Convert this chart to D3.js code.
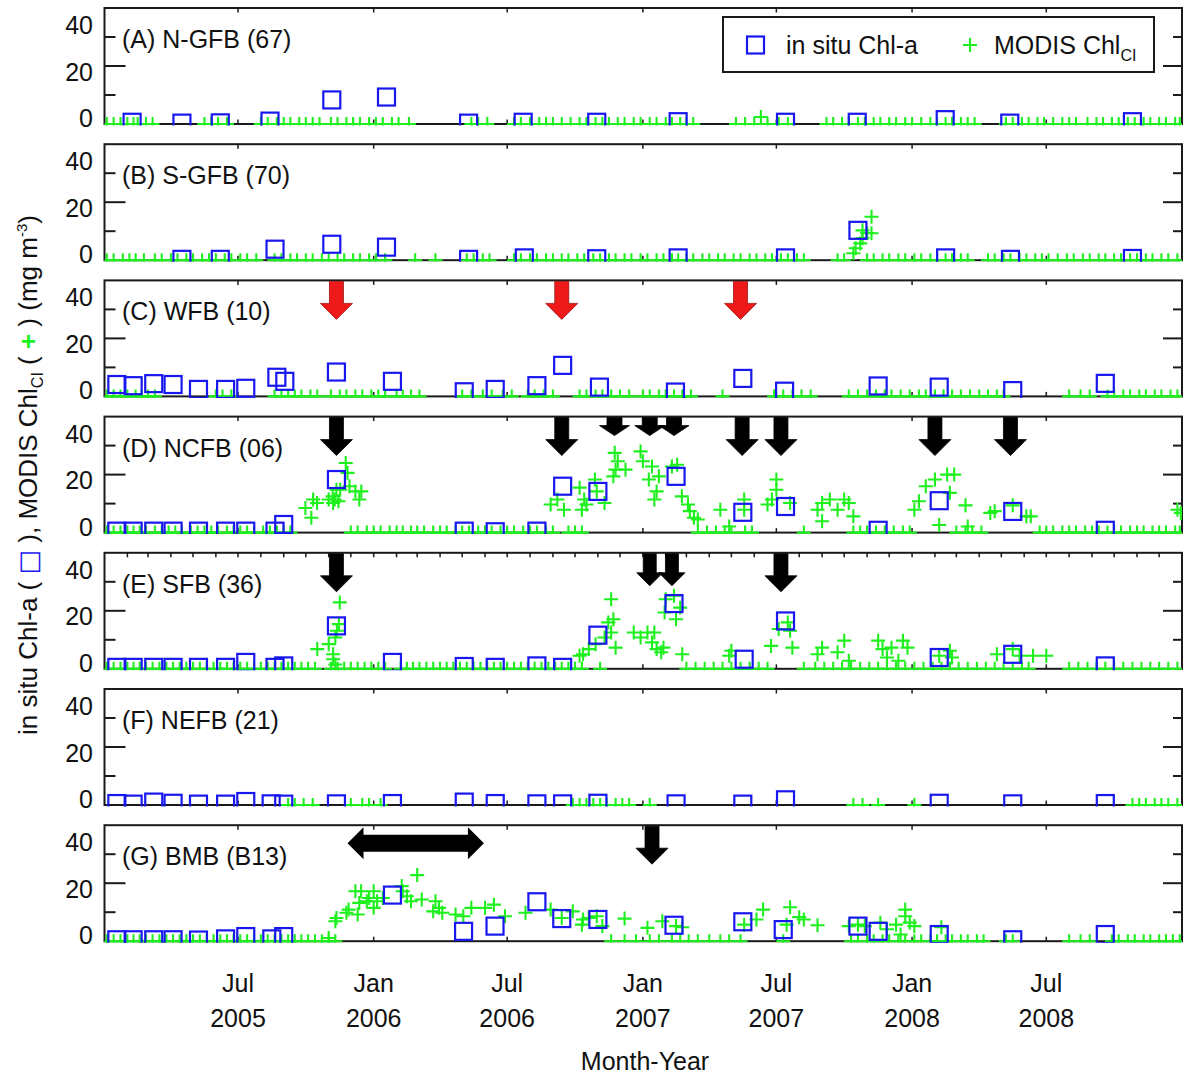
<!DOCTYPE html>
<html>
<head>
<meta charset="utf-8">
<script src="https://cdn.jsdelivr.net/npm/d3@7"></script>
<style>
  body { margin: 0; background: #fff; }
  text { font-family: "Liberation Sans", Arial, Helvetica, sans-serif; fill: #111; }
</style>
</head>
<body>
<div id="chart"></div>
<script>
// all times are in months since Jan 2005
const panelLabels = ["(A) N-GFB (67)", "(B) S-GFB (70)", "(C) WFB (10)", "(D) NCFB (06)",
                     "(E) SFB (36)", "(F) NEFB (21)", "(G) BMB (B13)"];

const yTicks = [0, 20, 40];
const xTicks = [6, 12, 18, 24, 30, 36, 42];

// in situ Chl-a  [month, mg m-3]
const insituA = [[1.23,0.6],[3.5,0.3],[5.2,0.4],[7.4,1.0],[10.14,8.3],[12.56,9.3],[16.28,0.3],[18.7,0.6],
  [21.95,0.6],[25.6,0.8],[30.4,0.6],[33.57,0.6],[37.48,1.5],[40.37,0.3],[45.8,0.8]];
const insituB = [[3.5,0.3],[5.2,0.3],[7.62,3.8],[10.14,5.5],[12.56,4.5],[16.28,0.3],[18.75,0.8],[21.95,0.5],
  [25.6,0.8],[30.4,0.8],[33.6,10.3],[37.5,0.8],[40.4,0.3],[45.8,0.6]];
const insituC = [[0.54,4.1],[1.28,3.7],[2.25,4.4],[3.1,4.1],[4.24,2.4],[5.44,2.4],[6.34,2.8],[7.7,6.6],[8.05,5.2],
  [10.35,8.4],[12.82,5.2],[16.09,1.6],[17.46,2.4],[19.3,3.7],[20.44,10.7],[22.07,3.2],[25.47,1.5],[28.5,6.2],
  [30.36,1.8],[34.5,3.6],[37.2,3.2],[40.5,2.0],[44.6,4.5]];
const insituD = [[0.54,0.5],[1.28,0.5],[2.25,0.5],[3.1,0.5],[4.24,0.5],[5.44,0.5],[6.34,0.5],[7.62,0.5],[8.0,2.8],
  [10.35,18.3],[16.09,0.5],[17.46,0.3],[19.3,0.5],[20.44,16.0],[22.0,14.2],[25.5,19.4],[28.5,7.0],[30.4,9.0],
  [34.5,0.8],[37.2,11.0],[40.5,7.3],[44.6,0.8]];
const insituE = [[0.54,0.5],[1.28,0.5],[2.25,0.5],[3.1,0.5],[4.24,0.5],[5.44,0.5],[6.34,2.2],[7.62,0.5],[8.0,1.0],
  [10.35,14.8],[12.82,2.2],[16.09,0.8],[17.46,0.5],[19.3,1.0],[20.44,0.5],[22.0,11.6],[25.4,22.5],[28.56,3.3],
  [30.4,16.5],[37.2,3.9],[40.5,5.0],[44.6,1.0]];
const insituF = [[0.54,0.5],[1.28,0.3],[2.25,1.0],[3.1,0.6],[4.24,0.3],[5.44,0.3],[6.34,1.2],[7.45,0.4],[8.0,0.3],
  [10.35,0.4],[12.82,0.5],[16.09,1.0],[17.46,0.5],[19.3,0.4],[20.44,0.4],[22.0,0.6],[25.5,0.4],[28.5,0.3],
  [30.4,1.8],[37.2,0.6],[40.5,0.4],[44.6,0.5]];
const insituG = [[0.54,0.5],[1.28,0.5],[2.25,0.5],[3.1,0.5],[4.24,0.4],[5.44,0.8],[6.34,1.6],[7.48,0.8],[8.0,1.6],
  [12.82,15.9],[16.06,3.4],[17.45,5.2],[19.3,13.6],[20.4,7.8],[22.0,7.5],[25.4,5.5],[28.5,6.7],[30.3,4.0],
  [33.6,5.2],[34.5,3.4],[37.2,2.3],[40.5,0.5],[44.6,2.3]];

// MODIS ChlCI above zero  [month, mg m-3]
const modisA = [[29.3,2.4]];
const modisB = [[33.4,2.4],[33.5,4.1],[33.7,5.8],[33.8,7.6],[33.8,10.3],[34.0,9.4],[34.2,9.3],[34.2,15.0]];
const modisC = [];
const modisD = [[8.98,8.5],[9.24,5.1],[9.32,11.4],[9.49,10.2],[10.0,11.4],[10.18,12.5],[10.2,10.2],[10.27,11.4],
  [10.35,14.8],[10.44,10.8],[10.52,14.8],[10.77,24.0],[10.85,20.6],[10.94,16.0],[11.2,14.2],[11.37,11.4],[11.46,14.2],
  [19.9,9.7],[20.2,11.4],[20.5,7.9],[21.2,15.5],[21.3,7.9],[21.4,11.4],[21.5,9.7],[21.87,18.3],[21.95,14.2],
  [22.3,10.2],[22.7,19.4],[22.76,27.5],[22.8,21.7],[22.9,24.6],[23.24,21.7],[23.9,28.0],[24.0,24.6],[24.26,18.3],
  [24.4,22.8],[24.5,11.4],[24.6,14.2],[24.7,19.4],[25.3,22.8],[25.55,23.4],[25.78,12.5],[26.07,9.7],[26.15,7.4],
  [26.33,5.1],[26.5,4.5],[27.5,7.9],[27.9,2.1],[28.56,11.4],[28.56,7.9],[29.6,9.7],[29.8,11.4],[30.0,18.3],
  [30.0,14.8],[30.6,10.2],[31.8,7.9],[32.0,10.2],[32.0,3.9],[32.35,11.4],[32.7,7.9],[33.0,11.4],[33.2,10.2],
  [33.4,5.6],[36.1,7.9],[36.3,10.8],[36.6,16.0],[37.0,18.3],[37.2,2.6],[37.57,20.0],[37.7,13.7],[37.9,20.0],
  [38.4,9.4],[38.5,2.1],[39.5,6.8],[39.7,7.4],[40.5,9.4],[41.1,5.6],[41.3,5.6],[47.8,7.9],[47.95,6.8]];
const modisE = [[9.5,6.8],[10.0,8.5],[10.2,5.0],[10.2,3.3],[10.3,10.8],[10.37,13.1],[10.46,15.4],[10.5,22.9],[10.3,1.5],
  [21.2,4.5],[21.35,5.0],[21.6,6.8],[21.9,8.5],[22.3,10.8],[22.47,16.0],[22.6,12.5],[22.6,24.0],[22.7,17.1],
  [22.8,7.3],[23.6,12.5],[23.9,10.8],[24.2,12.5],[24.4,9.1],[24.5,12.5],[24.6,6.8],[24.8,5.7],[24.9,7.3],
  [24.95,19.4],[25.0,24.0],[25.4,25.2],[25.5,17.1],[25.7,21.1],[25.8,5.0],[27.9,4.5],[28.0,6.2],[29.76,7.9],
  [30.1,13.7],[30.5,16.0],[30.6,13.1],[30.7,7.3],[31.8,5.0],[32.0,7.3],[32.7,5.7],[33.0,9.7],[33.2,2.8],
  [34.5,9.7],[34.7,6.8],[34.9,3.9],[35.1,7.3],[35.4,2.8],[35.6,9.7],[35.8,7.3],[37.2,4.5],[37.7,6.2],[37.8,3.9],
  [39.8,5.0],[40.5,6.8],[40.8,4.5],[41.4,4.5],[42.0,4.5]];
const modisF = [];
const modisG = [[10.0,1.1],[10.3,6.9],[10.35,8.0],[10.8,9.8],[10.9,10.9],[11.3,9.2],[11.2,17.2],[11.45,17.2],
  [11.37,13.2],[11.7,13.8],[11.8,14.9],[12.0,17.2],[12.0,11.5],[12.15,13.8],[12.4,14.9],[13.25,19.0],[13.3,17.2],
  [13.5,15.5],[13.7,13.8],[14.0,22.8],[14.2,14.4],[14.8,13.8],[14.7,10.3],[14.95,11.5],[15.1,9.8],[15.7,9.2],
  [16.05,8.6],[16.4,11.5],[17.0,11.5],[17.4,12.6],[17.9,8.6],[18.8,9.8],[19.9,10.9],[20.4,8.0],[20.9,10.3],
  [21.3,5.7],[21.6,8.0],[21.35,7.5],[21.95,8.6],[22.2,5.2],[23.2,7.8],[24.2,4.6],[24.85,6.9],[25.5,5.2],
  [25.8,4.8],[28.56,5.7],[29.1,7.5],[29.4,10.9],[30.6,11.7],[30.45,5.7],[31.0,8.3],[31.2,7.5],[31.8,5.5],
  [33.2,5.2],[33.6,5.7],[33.9,5.2],[34.6,6.4],[34.9,4.1],[35.3,5.7],[35.7,10.9],[35.7,8.6],[35.9,6.4],
  [36.1,5.2],[35.5,2.3],[37.3,4.8]];

// MODIS ChlCI observations equal to zero [month]
const modisZeroA = [0.1,0.4,0.7,1.0,1.3,1.5,1.9,2.2,4.5,4.8,5.1,5.5,7.0,7.3,7.7,8.0,8.3,8.7,9.0,9.3,9.6,
  10.1,10.4,10.8,11.1,11.4,11.8,12.1,12.4,12.8,13.1,13.6,16.4,16.7,17.1,18.3,18.6,19.0,19.4,19.7,20.0,20.4,
  20.8,21.2,21.5,21.9,22.2,22.5,22.9,23.2,23.6,23.9,24.3,24.6,25.0,25.3,25.7,26.0,26.3,28.2,28.6,29.0,29.6,
  30.1,30.5,32.2,32.5,32.9,33.2,33.6,33.9,34.3,34.6,35.0,35.3,35.7,36.0,36.4,36.8,37.1,37.5,37.8,38.2,38.5,
  38.8,40.2,40.5,40.9,41.2,41.6,41.9,42.3,42.7,43.0,43.3,43.8,44.2,44.5,44.9,45.2,45.6,45.9,46.3,46.6,47.0,
  47.3,47.7,47.9];
const modisZeroB = [0.1,0.4,0.8,1.1,1.4,1.8,2.3,2.6,3.0,3.3,3.7,4.0,4.4,4.7,5.0,5.4,5.7,6.1,6.4,6.8,7.6,7.9,
  8.3,8.6,9.0,9.3,9.7,10.0,10.4,10.7,11.1,11.4,11.8,12.1,12.5,13.9,14.8,16.2,16.5,16.9,17.2,18.3,18.6,19.0,
  19.3,19.7,20.0,20.4,20.7,21.1,21.4,21.8,22.1,22.5,22.8,23.2,23.5,23.9,24.2,24.6,24.9,25.3,25.6,26.0,26.3,
  26.7,27.0,27.4,27.7,28.1,28.4,28.8,29.1,29.5,29.8,30.2,30.5,30.9,31.2,32.7,33.0,34.0,34.3,34.7,35.0,35.4,
  35.7,36.1,36.4,36.8,37.1,37.5,37.8,38.2,38.5,39.4,39.7,40.1,40.4,40.8,41.1,41.5,41.8,42.1,42.5,42.9,43.2,
  43.6,43.9,44.3,44.6,45.0,45.3,45.7,46.0,46.4,46.7,47.1,47.4,47.8];
const modisZeroC = [0.1,0.4,0.7,1.0,1.4,1.7,2.0,2.3,5.0,5.3,5.7,7.6,7.9,8.2,8.5,8.8,9.2,9.5,10.1,10.5,10.8,
  11.2,11.5,11.9,12.2,12.5,13.0,13.3,13.7,14.1,16.0,16.4,16.9,17.3,17.8,18.2,18.9,19.2,19.6,20.0,21.2,21.5,
  21.9,22.2,22.6,23.0,23.4,24.0,24.3,24.7,25.0,25.4,25.8,26.2,27.6,29.9,30.3,30.7,31.1,31.5,33.2,33.6,34.0,
  34.4,34.8,35.1,35.5,35.9,36.3,36.6,37.0,37.4,37.8,38.2,38.6,39.0,39.4,39.8,40.1,43.0,43.5,43.9,44.7,45.0,
  45.4,45.7,46.1,46.4,46.8,47.1,47.5,47.8];
const modisZeroD = [0.1,0.4,0.7,1.0,1.3,1.6,1.9,2.3,2.6,2.9,3.2,3.5,3.9,4.2,4.5,4.8,5.1,5.5,5.8,6.1,6.4,6.7,
  7.1,7.4,7.7,8.0,8.3,11.0,11.3,11.7,12.0,12.3,12.7,13.0,13.3,13.7,14.0,14.3,14.7,15.0,15.3,15.7,16.0,16.3,
  16.7,17.0,17.3,17.7,18.0,18.3,18.7,19.0,19.3,19.7,20.0,20.7,21.0,21.3,26.5,26.9,27.3,27.7,28.0,28.6,28.9,
  31.2,33.4,33.7,34.0,34.4,34.8,35.2,35.6,35.9,38.0,38.4,38.7,39.1,41.7,42.0,42.3,42.7,43.0,43.3,43.7,44.0,
  44.3,44.7,45.0,45.3,45.7,46.0,46.3,46.7,47.0,47.3,47.7,47.9];
const modisZeroE = [0.1,0.4,0.7,1.0,1.3,1.6,1.9,2.2,2.5,2.8,3.1,3.4,3.7,4.0,4.3,4.6,4.9,5.2,5.5,5.8,6.1,6.4,
  6.7,7.0,7.3,7.6,7.9,8.2,8.5,8.8,9.1,9.4,10.1,10.4,10.7,11.0,11.3,11.6,11.9,12.2,12.5,13.2,13.5,13.8,14.1,
  14.4,14.7,15.0,15.3,15.6,15.9,16.2,16.5,16.8,17.1,17.4,17.7,18.0,18.3,18.6,18.9,19.2,19.5,19.8,20.1,20.4,
  20.7,21.0,21.3,22.1,26.0,26.4,26.8,27.2,27.6,28.0,28.4,28.8,29.2,29.6,31.2,31.7,32.1,32.5,32.9,33.3,33.7,
  34.1,34.5,34.9,35.3,35.7,36.1,36.5,36.9,37.3,37.7,38.1,38.5,38.9,39.3,39.7,40.1,40.5,40.9,41.2,43.0,43.4,
  43.8,44.2,44.6,45.0,45.4,45.8,46.2,46.6,47.0,47.4,47.8];
const modisZeroF = [8.2,8.5,8.9,9.3,11.0,11.5,11.8,12.3,20.9,21.2,21.5,21.8,22.1,22.4,22.8,23.1,23.4,24.3,
  33.4,33.8,34.5,36.1,45.8,46.1,46.4,46.8,47.1,47.4,47.8];
const modisZeroG = [0.1,0.4,0.7,1.0,1.3,1.6,1.9,2.2,2.5,2.8,3.1,3.4,3.7,4.0,4.3,4.6,4.9,5.2,5.5,5.8,6.1,6.4,
  6.7,7.0,7.3,7.6,7.9,8.2,8.5,8.8,9.1,9.4,9.7,10.0,10.3,22.6,23.2,23.7,24.3,24.7,25.3,25.7,26.1,26.5,27.0,
  27.5,27.9,28.4,30.3,33.3,33.6,34.0,34.3,34.7,35.0,35.4,35.7,36.1,36.4,36.8,37.1,37.5,37.8,38.2,38.5,38.9,
  39.2,40.2,40.5,43.0,43.5,43.9,44.9,45.2,45.6,45.9,46.3,46.6,47.0,47.3,47.6,47.9];

// event arrows [month, kind]
const arrowsC = [[10.35,"big"],[20.4,"big"],[28.4,"big"]];
const arrowsD = [[10.35,"big"],[20.4,"big"],[22.75,"small"],[24.3,"small"],[25.4,"small"],[28.47,"big"],
  [30.2,"big"],[37.0,"big"],[40.4,"big"]];
const arrowsE = [[10.35,"big"],[24.3,"mid"],[25.3,"mid"],[30.2,"big"]];
const arrowsG = [[24.4,"big"]];
const spanG = [10.85, 16.95];

const panels = [
  {label: panelLabels[0], insitu: insituA, modis: modisA, zero: modisZeroA, arrows: [], red: false},
  {label: panelLabels[1], insitu: insituB, modis: modisB, zero: modisZeroB, arrows: [], red: false},
  {label: panelLabels[2], insitu: insituC, modis: modisC, zero: modisZeroC, arrows: arrowsC, red: true},
  {label: panelLabels[3], insitu: insituD, modis: modisD, zero: modisZeroD, arrows: arrowsD, red: false},
  {label: panelLabels[4], insitu: insituE, modis: modisE, zero: modisZeroE, arrows: arrowsE, red: false, monthly: true},
  {label: panelLabels[5], insitu: insituF, modis: modisF, zero: modisZeroF, arrows: [], red: false},
  {label: panelLabels[6], insitu: insituG, modis: modisG, zero: modisZeroG, arrows: arrowsG, red: false, span: spanG}
];

const W = 1184, H = 1075;
const left = 104.5, right = 1182;
const top0 = 8, step = 136.2, ph = 116;
const BLUE = "#1818ee", GREEN = "#1ef01e", FS = 25;

function toDate(m) {
  const w = Math.floor(m);
  const a = new Date(2005, w, 1), b = new Date(2005, w + 1, 1);
  return new Date(+a + (m - w) * (b - a));
}

const x = d3.scaleTime().domain([toDate(0), toDate(48)]).range([left, right]);
const plusPath = "M-7,0H7M0,-7V7";
const arrowSize = {big: [38, 16, 7, 16], mid: [32, 13, 6.5, 13], small: [18, 10, 7.5, 15]};

const svg = d3.select("#chart").append("svg").attr("width", W).attr("height", H);
const defs = svg.append("defs");

panels.forEach((p, i) => {
  const top = top0 + i * step, bottom = top + ph;
  const y = d3.scaleLinear().domain([0, 40]).range([bottom, top]);
  const yLab = d3.scaleLinear().domain([0, 40]).range([bottom - 6, top + 17]);
  const g = svg.append("g");

  defs.append("clipPath").attr("id", "clip" + i).append("rect")
    .attr("x", left).attr("y", top).attr("width", right - left).attr("height", ph + 1.5);

  g.append("rect").attr("x", left).attr("y", top).attr("width", right - left).attr("height", ph)
    .attr("fill", "none").attr("stroke", "#1a1a1a").attr("stroke-width", 2);

  // y ticks (both sides)
  [10, 20, 30].forEach(v => {
    const len = v === 20 ? 21 : 11;
    g.append("line").attr("x1", left).attr("x2", left + len).attr("y1", y(v)).attr("y2", y(v))
      .attr("stroke", "#1a1a1a").attr("stroke-width", 2);
    g.append("line").attr("x1", right - len + 2).attr("x2", right).attr("y1", y(v)).attr("y2", y(v))
      .attr("stroke", "#1a1a1a").attr("stroke-width", 2);
  });
  g.selectAll("text.ylab").data(yTicks).join("text").attr("class", "ylab")
    .attr("x", 93).attr("y", d => yLab(d) + 9).attr("text-anchor", "end")
    .attr("font-size", FS).text(d => d);

  // x ticks top & bottom
  const tickDates = p.monthly ? d3.range(1, 48).map(toDate) : xTicks.map(toDate);
  tickDates.forEach(d => {
    g.append("line").attr("x1", x(d)).attr("x2", x(d)).attr("y1", top).attr("y2", top + 4.5)
      .attr("stroke", "#1a1a1a").attr("stroke-width", 1.5);
  });
  xTicks.map(toDate).forEach(d => {
    g.append("line").attr("x1", x(d)).attr("x2", x(d)).attr("y1", bottom).attr("y2", bottom - 4.5)
      .attr("stroke", "#1a1a1a").attr("stroke-width", 1.5);
  });

  g.append("text").attr("x", 122).attr("y", top + 40).attr("font-size", FS).text(p.label);

  // data
  const dg = g.append("g").attr("clip-path", `url(#clip${i})`);
  dg.selectAll("path.zero").data(p.zero).join("path").attr("class", "zero")
    .attr("d", plusPath).attr("transform", d => `translate(${x(toDate(d))},${y(0)})`)
    .attr("stroke", GREEN).attr("stroke-width", 2.1).attr("fill", "none");
  dg.selectAll("path.modis").data(p.modis).join("path").attr("class", "modis")
    .attr("d", plusPath).attr("transform", d => `translate(${x(toDate(d[0]))},${y(d[1])})`)
    .attr("stroke", GREEN).attr("stroke-width", 2.1).attr("fill", "none");
  dg.selectAll("rect.insitu").data(p.insitu).join("rect").attr("class", "insitu")
    .attr("x", d => x(toDate(d[0])) - 8.5).attr("y", d => y(d[1]) - 8.5)
    .attr("width", 17).attr("height", 17)
    .attr("fill", "none").attr("stroke", BLUE).attr("stroke-width", 2.2);

  // event arrows
  p.arrows.forEach(([m, kind]) => {
    const [h, hh, sw, hw] = arrowSize[kind];
    const cx = x(toDate(m)), t = top + 1;
    const path = `M${cx - sw},${t}H${cx + sw}V${t + h - hh}H${cx + hw}L${cx},${t + h}L${cx - hw},${t + h - hh}H${cx - sw}Z`;
    g.append("path").attr("d", path)
      .attr("fill", p.red ? "#ee1a1a" : "#000")
      .attr("stroke", p.red ? "#991010" : "#000").attr("stroke-width", 0.8);
  });
  if (p.span) {
    const x0 = x(toDate(p.span[0])), x1 = x(toDate(p.span[1]));
    const cy = top + 18, hl = 16, sh = 8.5, hh = 16;
    const path = `M${x0},${cy}L${x0 + hl},${cy - hh}V${cy - sh}H${x1 - hl}V${cy - hh}L${x1},${cy}` +
      `L${x1 - hl},${cy + hh}V${cy + sh}H${x0 + hl}V${cy + hh}Z`;
    g.append("path").attr("d", path).attr("fill", "#000");
  }
});

// x axis labels
const fmtMon = d3.timeFormat("%b"), fmtYear = d3.timeFormat("%Y");
xTicks.map(toDate).forEach(d => {
  svg.append("text").attr("x", x(d)).attr("y", 992).attr("text-anchor", "middle").attr("font-size", FS).text(fmtMon(d));
  svg.append("text").attr("x", x(d)).attr("y", 1027).attr("text-anchor", "middle").attr("font-size", FS).text(fmtYear(d));
});
svg.append("text").attr("x", 645).attr("y", 1070).attr("text-anchor", "middle").attr("font-size", FS).text("Month-Year");

// y axis title
const yt = svg.append("text").attr("transform", "translate(37,475) rotate(-90)")
  .attr("text-anchor", "middle").attr("font-size", 26);
yt.append("tspan").text("in situ Chl-a ( ");
yt.append("tspan").style("fill", BLUE).attr("font-family", "DejaVu Sans").text("\u25A1");
yt.append("tspan").text(" ),  MODIS Chl");
yt.append("tspan").attr("font-size", 16).attr("dy", 6).text("CI");
yt.append("tspan").attr("dy", -6).text(" ( ");
yt.append("tspan").style("fill", GREEN).attr("font-weight", "bold").text("+");
yt.append("tspan").text(" ) (mg m");
yt.append("tspan").attr("font-size", 15).attr("dy", -10).text("-3");
yt.append("tspan").attr("dy", 10).text(")");

// legend
const lg = svg.append("g");
lg.append("rect").attr("x", 723).attr("y", 17).attr("width", 431).attr("height", 55)
  .attr("fill", "#fff").attr("stroke", "#1a1a1a").attr("stroke-width", 2);
lg.append("rect").attr("x", 747).attr("y", 36.5).attr("width", 17).attr("height", 17)
  .attr("fill", "none").attr("stroke", BLUE).attr("stroke-width", 2.2);
lg.append("text").attr("x", 786).attr("y", 54).attr("font-size", FS).text("in situ Chl-a");
lg.append("path").attr("d", plusPath).attr("transform", "translate(970,45)")
  .attr("stroke", GREEN).attr("stroke-width", 2.1);
const lt = lg.append("text").attr("x", 994).attr("y", 54).attr("font-size", FS);
lt.append("tspan").text("MODIS Chl");
lt.append("tspan").attr("font-size", 16).attr("dy", 7).text("CI");
</script>
</body>
</html>
